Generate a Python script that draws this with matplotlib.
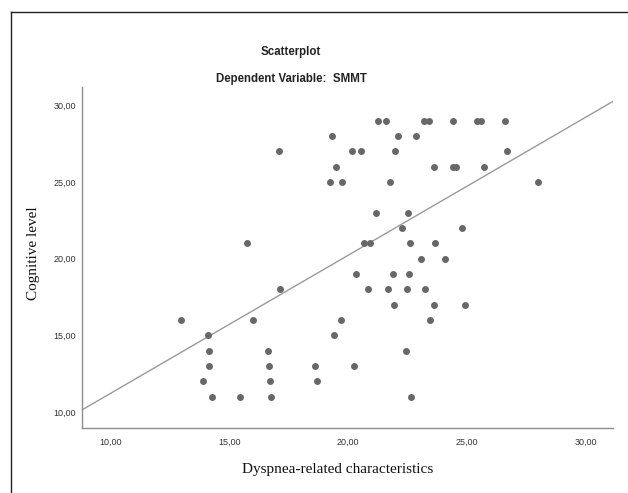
import numpy as np
import matplotlib
matplotlib.use('Agg')
import matplotlib.pyplot as plt
from matplotlib.lines import Line2D

# scatter data, grouped by SMMT score
x_vals = [21.26, 21.59, 23.20, 23.39, 24.42, 25.41, 25.59, 26.58,   # 29
          19.33, 22.09, 22.86,                                        # 28
          17.07, 20.16, 20.53, 21.95, 26.67,                          # 27
          19.47, 23.60, 24.42, 24.52, 25.71,                          # 26
          19.24, 19.72, 21.74, 27.99,                                 # 25
          21.17, 22.53,                                               # 23
          22.25, 24.77,                                               # 22
          15.72, 20.67, 20.91, 22.59, 23.64,                          # 21
          23.06, 24.08,                                               # 20
          20.32, 21.87, 22.54,                                        # 19
          17.12, 20.84, 21.66, 22.46, 23.22,                          # 18
          21.94, 23.62, 24.91,                                        # 17
          12.96, 15.97, 19.71, 23.45,                                 # 16
          14.08, 19.40,                                               # 15
          14.15, 16.62, 22.44,                                        # 14
          14.15, 16.66, 18.62, 20.25,                                 # 13
          13.90, 16.69, 18.69,                                        # 12
          14.25, 15.45, 16.75, 22.64]                                 # 11
y_vals = ([29] * 8 + [28] * 3 + [27] * 5 + [26] * 5 + [25] * 4 + [23] * 2 +
          [22] * 2 + [21] * 5 + [20] * 2 + [19] * 3 + [18] * 5 + [17] * 3 +
          [16] * 4 + [15] * 2 + [14] * 3 + [13] * 4 + [12] * 3 + [11] * 4)

# fit line as drawn in the reference
fit_intercept = 2.23
fit_slope = 0.90

x_ticks = [10, 15, 20, 25, 30]
y_ticks = [10, 15, 20, 25, 30]
tick_labels = ['10,00', '15,00', '20,00', '25,00', '30,00']

W, H = 628, 493
fig = plt.figure(figsize=(W / 100, H / 100), dpi=100)
ax = fig.add_axes([81.7 / W, 1 - 427.7 / H, (613.3 - 81.7) / W, (427.7 - 87) / H])

xlim = (8.775, 31.16)
ax.set_xlim(xlim)
ax.set_ylim(8.98, 31.2)

xs = np.array(xlim)
ax.plot(xs, fit_intercept + fit_slope * xs, color='#9a9a9a', lw=1.0, zorder=1)
ax.plot(x_vals, y_vals, 'o', color='#676767', markersize=5.0, markeredgewidth=0, zorder=2)

ax.set_xticks(x_ticks)
ax.set_xticklabels(tick_labels)
ax.set_yticks(y_ticks)
ax.set_yticklabels(tick_labels)
ax.tick_params(length=0, labelsize=6.5, labelcolor='#333333', labelfontfamily='Liberation Sans')
ax.tick_params(axis='x', pad=7)
ax.tick_params(axis='y', pad=4)

for s in ['top', 'right']:
    ax.spines[s].set_visible(False)
for s in ['left', 'bottom']:
    ax.spines[s].set_color('#8c8c8c')
    ax.spines[s].set_linewidth(1.0)

# titles and axis labels
fig.text(291 / W, 1 - 52 / H, 'Scatterplot', ha='center', va='center',
         fontsize=8.3, fontweight='bold', family='Liberation Sans', color='#222222')
fig.text(291 / W, 1 - 79 / H, 'Dependent Variable:  SMMT', ha='center', va='center',
         fontsize=8.3, fontweight='bold', family='Liberation Sans', color='#222222')
fig.text(338 / W, 1 - 470 / H, 'Dyspnea-related characteristics', ha='center', va='center',
         fontsize=11, family='Liberation Serif', color='#111111')
fig.text(33 / W, 1 - 253 / H, 'Cognitive level', ha='center', va='center', rotation=90,
         fontsize=11, family='Liberation Serif', color='#111111')

# outer frame lines (left and top)
fig.add_artist(Line2D([11 / W, 11 / W], [0, 1 - 12 / H], color='#222222', lw=1.0))
fig.add_artist(Line2D([11 / W, 1], [1 - 12 / H, 1 - 12 / H], color='#222222', lw=1.0))

fig.savefig('out.png', dpi=100)
